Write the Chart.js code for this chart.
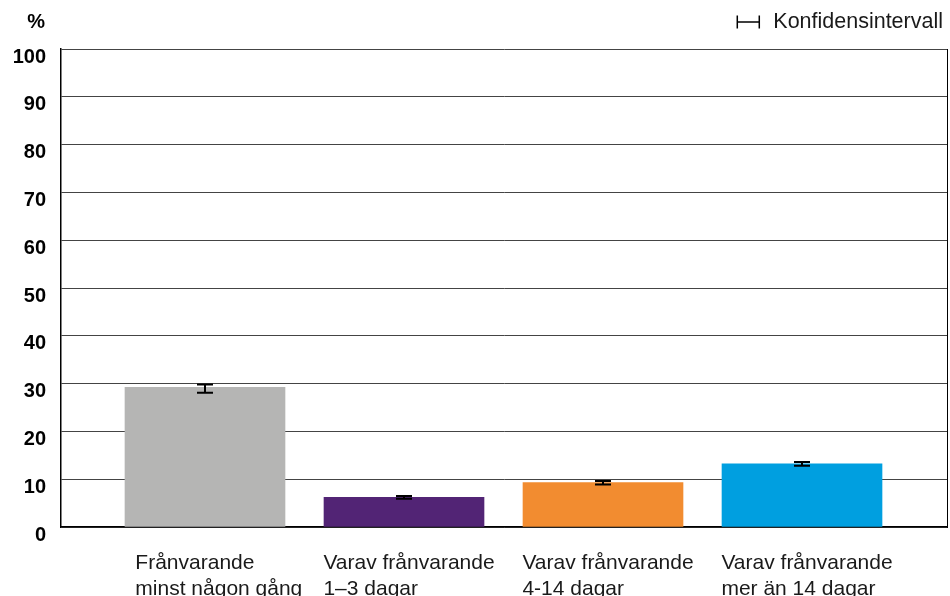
<!DOCTYPE html>
<html lang="sv">
<head>
<meta charset="utf-8">
<title>Frånvaro</title>
<script src="https://cdn.jsdelivr.net/npm/chart.js@4.4.1/dist/chart.umd.min.js"></script>
<style>
  html, body { margin: 0; padding: 0; background: #fff; }
  #wrap { width: 950px; height: 596px; }
</style>
</head>
<body>
<div id="wrap"><canvas id="franvaro" width="950" height="596"></canvas></div>
<script>
// Data
const categories = [
  ['Frånvarande', 'minst någon gång'],
  ['Varav frånvarande', '1–3 dagar'],
  ['Varav frånvarande', '4-14 dagar'],
  ['Varav frånvarande', 'mer än 14 dagar']
];
const values = [29.2, 6.2, 9.3, 13.2];
const ciLow  = [28.1, 5.9, 8.9, 12.8];
const ciHigh = [29.8, 6.5, 9.6, 13.6];
const barColors = ['#b5b5b4', '#522475', '#f28c30', '#009fe0'];
const yUnit = '%';
const legendText = 'Konfidensintervall';

// Layout-ish constants
const labelShift = [-0.35, -0.405, -0.405, -0.405];
const FONT = '"Liberation Sans", Arial, sans-serif';

Chart.defaults.font.family = FONT;
Chart.defaults.color = '#000';

// error bars + legend + unit label
const extras = {
  id: 'extras',
  afterDatasetsDraw(chart) {
    const { ctx, scales: { x, y } } = chart;
    ctx.save();
    ctx.strokeStyle = '#000';
    ctx.lineWidth = 2;
    values.forEach((v, i) => {
      const px = x.getPixelForValue(i);
      const lo = y.getPixelForValue(ciLow[i]);
      const hi = y.getPixelForValue(ciHigh[i]);
      ctx.beginPath();
      ctx.moveTo(px, lo); ctx.lineTo(px, hi);
      ctx.moveTo(px - 8, lo); ctx.lineTo(px + 8, lo);
      ctx.moveTo(px - 8, hi); ctx.lineTo(px + 8, hi);
      ctx.stroke();
    });
    ctx.restore();
  },
  afterDraw(chart) {
    const { ctx } = chart;
    ctx.save();
    // %
    ctx.fillStyle = '#000';
    ctx.font = 'bold 20px ' + FONT;
    ctx.textAlign = 'right';
    ctx.textBaseline = 'middle';
    ctx.fillText(yUnit, 45, 22);
    // legend
    ctx.font = '21.5px ' + FONT;
    ctx.textAlign = 'right';
    ctx.fillStyle = '#1a1a1a';
    ctx.fillText(legendText, 943, 22);
    const w = ctx.measureText(legendText).width;
    const ix = 943 - w - 14;
    ctx.strokeStyle = '#000';
    ctx.lineWidth = 1.5;
    ctx.beginPath();
    ctx.moveTo(ix - 22, 22); ctx.lineTo(ix, 22);
    ctx.moveTo(ix - 22, 15.5); ctx.lineTo(ix - 22, 28.5);
    ctx.moveTo(ix, 15.5); ctx.lineTo(ix, 28.5);
    ctx.stroke();
    ctx.restore();
  }
};

new Chart(document.getElementById('franvaro'), {
  type: 'bar',
  data: {
    datasets: [{
      data: values.map((v, i) => ({ x: i, y: v })),
      backgroundColor: barColors,
      borderWidth: 0,
      barThickness: 160
    }]
  },
  options: {
    responsive: false,
    animation: false,
    layout: { padding: { top: 49, right: 3, left: 0, bottom: 0 } },
    plugins: { legend: { display: false }, tooltip: { enabled: false } },
    scales: {
      x: {
        type: 'linear',
        min: -0.7236,
        max: 3.7286,
        offset: false,
        afterBuildTicks: s => { s.ticks = categories.map((c, i) => ({ value: i + labelShift[i] })); },
        afterFit: s => { s.height = 69; },
        grid: { display: false, offset: false },
        border: { color: '#000', width: 1.5 },
        ticks: {
          autoSkip: false,
          maxRotation: 0,
          align: 'start',
          padding: 15,
          color: '#1a1a1a',
          font: { size: 21, lineHeight: 1.24 },
          callback: (v, i) => categories[i]
        }
      },
      y: {
        min: 0,
        max: 100,
        afterFit: s => { s.width = 61; },
        grid: { color: '#444', lineWidth: 1, drawTicks: false },
        border: { color: '#000', width: 1.5 },
        ticks: {
          stepSize: 10,
          padding: 15,
          labelOffset: 8,
          color: '#000',
          font: { size: 20, weight: 'bold' }
        }
      },
      y2: {
        position: 'right',
        min: 0,
        max: 100,
        grid: { display: false, drawTicks: false },
        ticks: { display: false },
        border: { display: true, color: '#000', width: 1 }
      }
    }
  },
  plugins: [extras]
});
</script>
</body>
</html>
